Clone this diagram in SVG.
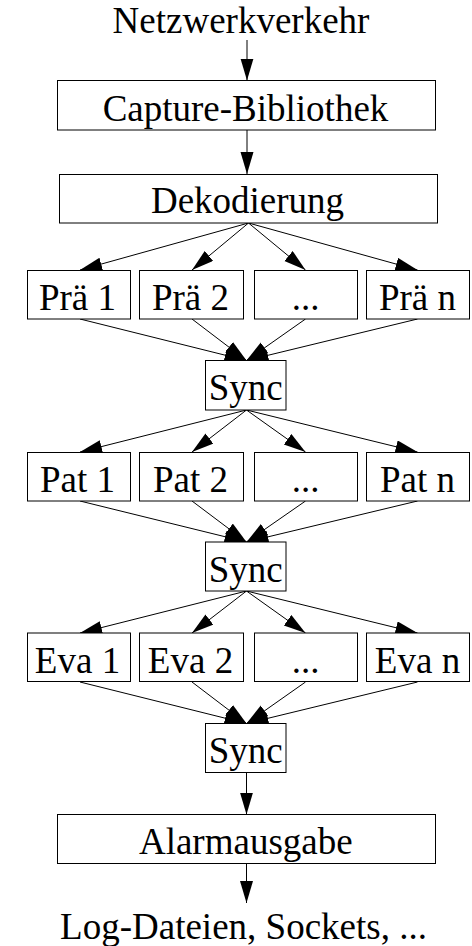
<svg xmlns="http://www.w3.org/2000/svg" width="472" height="946" viewBox="0 0 472 946">
<style>
  .box { fill: #fff; stroke: #000; stroke-width: 1; }
  .lbl { font-family: "Liberation Serif", "Times New Roman", serif; font-size: 37px; fill: #000; text-anchor: middle; }
  .edge { fill: none; stroke: #000; stroke-width: 1; marker-end: url(#ah); }
</style>
<defs>
  <marker id="ah" markerUnits="userSpaceOnUse" markerWidth="23" markerHeight="14" refX="22" refY="6.5" orient="auto">
    <path d="M0,0 L22,6.5 L0,13 Z" fill="#000"/>
  </marker>
</defs>
<rect width="472" height="946" fill="#fff"/>

<g id="connectors">
  <line class="edge" x1="247" y1="40" x2="247" y2="80.5"/>
  <line class="edge" x1="247" y1="130" x2="247" y2="174"/>
  <!-- Dekodierung -> Prä -->
  <line class="edge" x1="248.5" y1="223" x2="80" y2="270"/>
  <line class="edge" x1="248.5" y1="223" x2="192" y2="270"/>
  <line class="edge" x1="248.5" y1="223" x2="305.5" y2="270"/>
  <line class="edge" x1="248.5" y1="223" x2="417.5" y2="270"/>
  <!-- Prä -> Sync -->
  <line class="edge" x1="80" y1="319" x2="246.5" y2="360.5"/>
  <line class="edge" x1="192" y1="319" x2="246.5" y2="360.5"/>
  <line class="edge" x1="305.5" y1="319" x2="246.5" y2="360.5"/>
  <line class="edge" x1="417.5" y1="319" x2="246.5" y2="360.5"/>
  <!-- Sync -> Pat -->
  <line class="edge" x1="246.5" y1="410" x2="80" y2="452"/>
  <line class="edge" x1="246.5" y1="410" x2="192" y2="452"/>
  <line class="edge" x1="246.5" y1="410" x2="305.5" y2="452"/>
  <line class="edge" x1="246.5" y1="410" x2="417.5" y2="452"/>
  <!-- Pat -> Sync -->
  <line class="edge" x1="80" y1="501" x2="246.5" y2="542"/>
  <line class="edge" x1="192" y1="501" x2="246.5" y2="542"/>
  <line class="edge" x1="305.5" y1="501" x2="246.5" y2="542"/>
  <line class="edge" x1="417.5" y1="501" x2="246.5" y2="542"/>
  <!-- Sync -> Eva -->
  <line class="edge" x1="246.5" y1="591" x2="80" y2="633"/>
  <line class="edge" x1="246.5" y1="591" x2="192" y2="633"/>
  <line class="edge" x1="246.5" y1="591" x2="305.5" y2="633"/>
  <line class="edge" x1="246.5" y1="591" x2="417.5" y2="633"/>
  <!-- Eva -> Sync -->
  <line class="edge" x1="80" y1="682" x2="246.5" y2="723.5"/>
  <line class="edge" x1="192" y1="682" x2="246.5" y2="723.5"/>
  <line class="edge" x1="305.5" y1="682" x2="246.5" y2="723.5"/>
  <line class="edge" x1="417.5" y1="682" x2="246.5" y2="723.5"/>
  <!-- Sync -> Alarm -> Output -->
  <line class="edge" x1="246.5" y1="772.5" x2="246.5" y2="814.5"/>
  <line class="edge" x1="246.5" y1="863.5" x2="246.5" y2="903"/>
</g>

<g id="netzwerkverkehr"><text class="lbl" x="241" y="33">Netzwerkverkehr</text></g>

<g id="capture"><rect class="box" x="57.5" y="80.5" width="378" height="49.5"/><text class="lbl" x="245.5" y="120.5">Capture-Bibliothek</text></g>
<g id="dekodierung"><rect class="box" x="59.5" y="174.5" width="378" height="48.5"/><text class="lbl" x="247.5" y="213">Dekodierung</text></g>

<g id="prae1"><rect class="box" x="27.5" y="270.5" width="103" height="48.5"/><text class="lbl" x="77.5" y="310">Prä 1</text></g>
<g id="prae2"><rect class="box" x="139.5" y="270.5" width="104" height="48.5"/><text class="lbl" x="190.5" y="310">Prä 2</text></g>
<g id="prae3"><rect class="box" x="254.5" y="270.5" width="103" height="48.5"/><text class="lbl" x="305.5" y="310">...</text></g>
<g id="praen"><rect class="box" x="366.5" y="270.5" width="103" height="48.5"/><text class="lbl" x="417.5" y="310">Prä n</text></g>

<g id="sync1"><rect class="box" x="205.5" y="360.5" width="80.5" height="49.5"/><text class="lbl" x="245.8" y="400">Sync</text></g>

<g id="pat1"><rect class="box" x="27.5" y="452.5" width="103" height="48.5"/><text class="lbl" x="77.5" y="492">Pat 1</text></g>
<g id="pat2"><rect class="box" x="139.5" y="452.5" width="104" height="48.5"/><text class="lbl" x="190.5" y="492">Pat 2</text></g>
<g id="pat3"><rect class="box" x="254.5" y="452.5" width="103" height="48.5"/><text class="lbl" x="305.5" y="492">...</text></g>
<g id="patn"><rect class="box" x="366.5" y="452.5" width="103" height="48.5"/><text class="lbl" x="417.5" y="492">Pat n</text></g>

<g id="sync2"><rect class="box" x="205.5" y="542" width="80.5" height="49"/><text class="lbl" x="245.8" y="581.5">Sync</text></g>

<g id="eva1"><rect class="box" x="27.5" y="633" width="103" height="48.5"/><text class="lbl" x="77.5" y="672.5">Eva 1</text></g>
<g id="eva2"><rect class="box" x="139.5" y="633" width="104" height="48.5"/><text class="lbl" x="190.5" y="672.5">Eva 2</text></g>
<g id="eva3"><rect class="box" x="254.5" y="633" width="103" height="48.5"/><text class="lbl" x="305.5" y="672.5">...</text></g>
<g id="evan"><rect class="box" x="366.5" y="633" width="103" height="48.5"/><text class="lbl" x="417.5" y="672.5">Eva n</text></g>

<g id="sync3"><rect class="box" x="205.5" y="723.5" width="80.5" height="49"/><text class="lbl" x="245.8" y="763">Sync</text></g>

<g id="alarmausgabe"><rect class="box" x="57.5" y="814.5" width="378" height="49"/><text class="lbl" x="245.8" y="853.5">Alarmausgabe</text></g>

<g id="ausgabe"><text class="lbl" x="243.5" y="939">Log-Dateien, Sockets, ...</text></g>
</svg>
